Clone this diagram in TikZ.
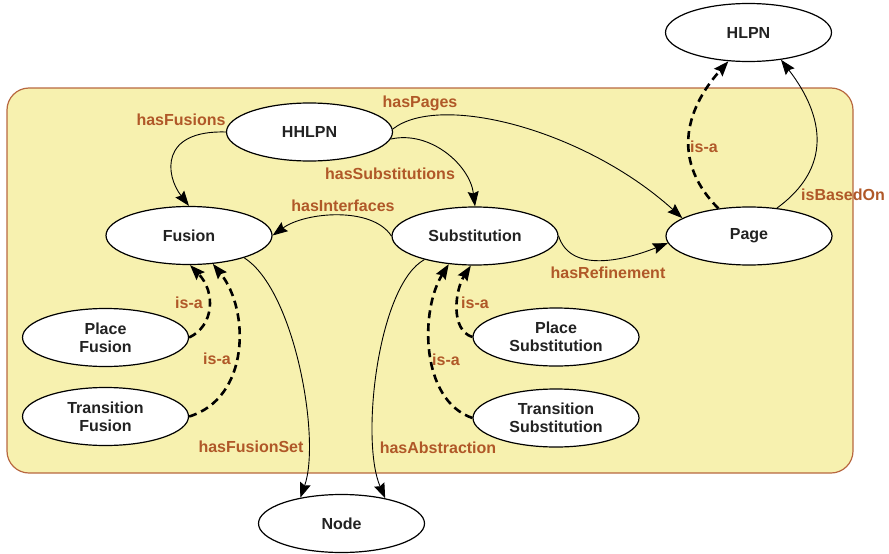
\documentclass[tikz,border=0pt]{standalone}
\usepackage{fontspec}
\setmainfont{Liberation Sans}
\usetikzlibrary{shapes.geometric,arrows.meta}
\definecolor{bgfill}{RGB}{247,241,175}
\definecolor{bgline}{RGB}{184,104,64}
\definecolor{lblcol}{RGB}{176,88,40}
\definecolor{txtcol}{RGB}{34,34,34}
\tikzset{
  cls/.style={ellipse, draw=black, line width=1.2pt, fill=white, minimum width=166pt, minimum height=58pt, inner sep=0pt, align=center, text=txtcol, font=\fontsize{16}{18}\selectfont\bfseries},
  rel/.style={draw=black, line width=0.9pt, -{Stealth[length=15pt,width=11pt,inset=2pt]}},
  isa/.style={draw=black, line width=2.6pt, dash pattern=on 8pt off 5pt, -{Stealth[length=15pt,width=11pt,inset=2pt]}},
  lbl/.style={text=lblcol, font=\fontsize{16}{18}\selectfont\bfseries, inner sep=0pt}
}
\begin{document}
\begin{tikzpicture}[x=1pt,y=-1pt]
\useasboundingbox (0,0) rectangle (889,554);
\path[fill=bgfill, draw=bgline, line width=1.2pt, rounded corners=22pt] (7,88) rectangle (853,473);

\node[cls] (hlpn) at (748.5,32.5) {HLPN};
\node[cls] (hhlpn) at (309.5,132) {HHLPN};
\node[cls] (fusion) at (189,235.5) {Fusion};
\node[cls] (sub) at (475,236) {Substitution};
\node[cls] (page) at (749,236) {Page};
\node[cls] (pf) at (105.5,337.5) {Place\\Fusion};
\node[cls] (tf) at (105.5,416.5) {Transition\\Fusion};
\node[cls] (ps) at (556,337) {Place\\Substitution};
\node[cls] (ts) at (556,418) {Transition\\Substitution};
\node[cls] (node) at (341.5,523.5) {Node};

% relations
\draw[rel] (hhlpn.180) .. controls (160,130) and (165,175) .. (fusion.90);
\draw[rel] (hhlpn.2) .. controls (440,92) and (585,130) .. (page.165);
\draw[rel] (hhlpn.-5) .. controls (430,130) and (470,165) .. (sub.90);
\draw[rel] (sub.180) .. controls (372,206) and (305,212) .. (fusion.0);
\draw[rel] (sub.0) .. controls (570,272) and (620,262) .. (page.185);
\draw[rel] (page.45) .. controls (832,168) and (825,117) .. (hlpn.-40);
\draw[rel] (fusion.-22) .. controls (295,290) and (321,440) .. (node.148);
\draw[rel] (sub.205) .. controls (378,285) and (360,440) .. (node.30);

% is-a
\draw[isa] (page.138) .. controls (673,163) and (683,112) .. (hlpn.235);
\draw[isa] (pf.east) .. controls (214,326) and (216,292) .. (fusion.-88);
\draw[isa] (tf.east) .. controls (250,398) and (250,310) .. (fusion.-50);
\draw[isa] (ps.west) .. controls (450,330) and (455,290) .. (sub.262);
\draw[isa] (ts.west) .. controls (420,400) and (420,310) .. (sub.227);

% labels
\node[lbl] (l1) at (181,120) {hasFusions};
\node[lbl] (l2) at (420,103) {hasPages};
\node[lbl] (l3) at (390,174) {hasSubstitutions};
\node[lbl] (l4) at (343,206) {hasInterfaces};
\node[lbl] (l5) at (608,273) {hasRefinement};
\node[lbl] (l6) at (704,147) {is-a};
\node[lbl] (l7) at (843,195) {isBasedOn};
\node[lbl] (l8) at (189,303) {is-a};
\node[lbl] (l9) at (217,359) {is-a};
\node[lbl] (l10) at (251,447) {hasFusionSet};
\node[lbl] (l11) at (438,448) {hasAbstraction};
\node[lbl] (l12) at (475,303) {is-a};
\node[lbl] (l13) at (446,360) {is-a};
\end{tikzpicture}
\end{document}
